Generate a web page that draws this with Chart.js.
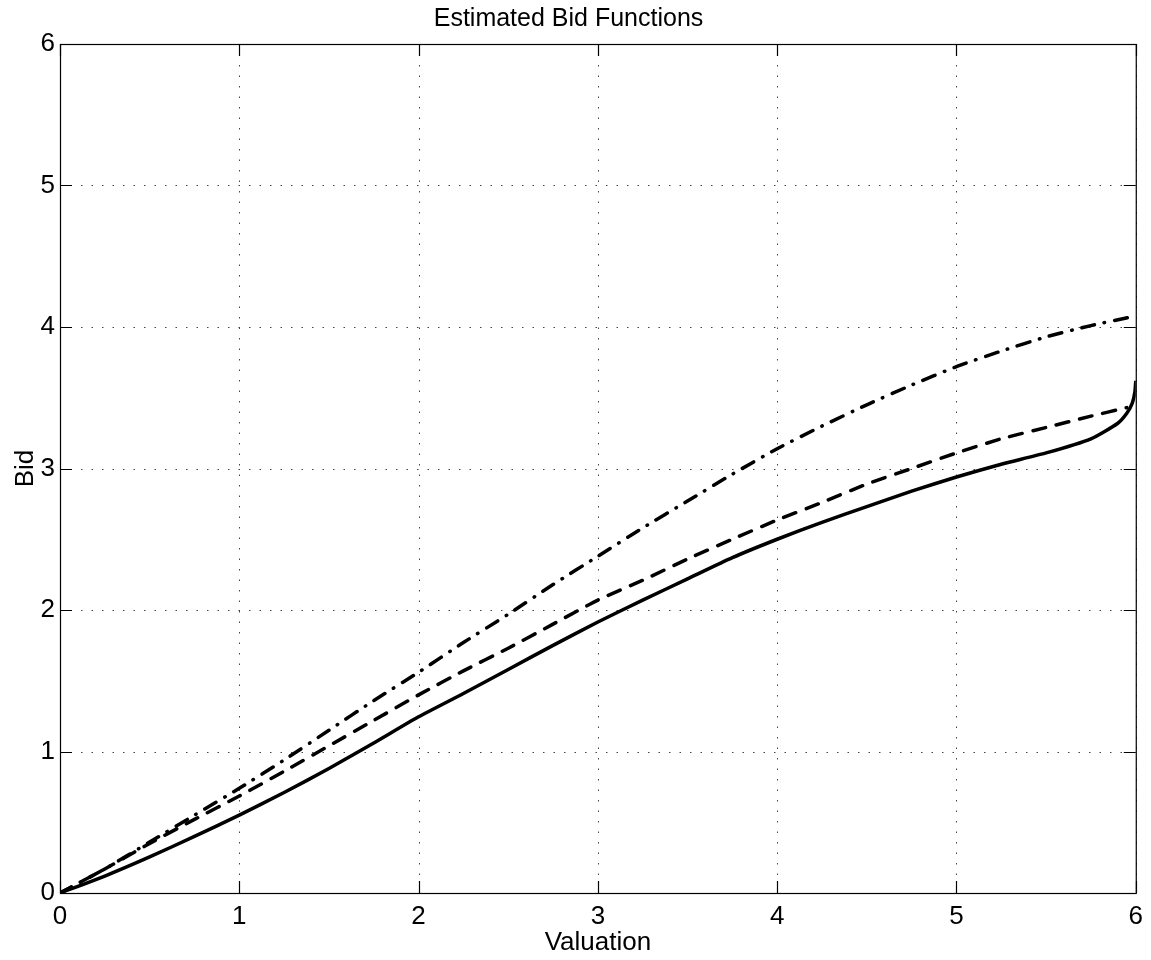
<!DOCTYPE html>
<html lang="en">
<head>
    <meta charset="UTF-8">
    <title>Estimated Bid Functions</title>
    <script src="https://cdn.jsdelivr.net/npm/chart.js"></script>
    <style>
        body {
            margin: 0;
            background: #fff;
        }
        #wrap {
            width: 1151px;
            height: 960px;
        }
    </style>
</head>
<body>

<div id="wrap">
    <canvas id="bidChart"></canvas>
</div>

<script>
    // valores
    const solidX = [0, 0.25, 0.5, 0.75, 1, 1.25, 1.5, 1.75, 2, 2.25, 2.5, 2.75, 3, 3.25, 3.5, 3.75, 4, 4.25, 4.5, 4.75, 5, 5.25, 5.5, 5.75, 5.9, 5.95, 5.98, 5.995, 6];
    const solidBid = [0, 0.12, 0.255, 0.4, 0.55, 0.71, 0.88, 1.06, 1.245, 1.41, 1.58, 1.75, 1.915, 2.07, 2.22, 2.37, 2.5, 2.62, 2.73, 2.84, 2.94, 3.03, 3.11, 3.21, 3.32, 3.39, 3.46, 3.54, 3.62];

    const dashedX = [0, 0.25, 0.5, 0.75, 1, 1.25, 1.5, 1.75, 2, 2.25, 2.5, 2.75, 3, 3.25, 3.5, 3.75, 4, 4.25, 4.5, 4.75, 5, 5.25, 5.5, 5.75, 5.95];
    const dashedBid = [0, 0.17, 0.35, 0.52, 0.685, 0.86, 1.04, 1.22, 1.4, 1.57, 1.73, 1.9, 2.07, 2.21, 2.36, 2.5, 2.636, 2.76, 2.89, 3.0, 3.11, 3.21, 3.29, 3.37, 3.43];

    const dashDotX = [0, 0.25, 0.5, 0.75, 1, 1.25, 1.5, 1.75, 2, 2.25, 2.5, 2.75, 3, 3.25, 3.5, 3.75, 4, 4.25, 4.5, 4.75, 5, 5.25, 5.5, 5.75, 5.97];
    const dashDotBid = [0, 0.17, 0.36, 0.55, 0.74, 0.94, 1.15, 1.36, 1.56, 1.77, 1.97, 2.18, 2.38, 2.58, 2.77, 2.96, 3.14, 3.3, 3.45, 3.59, 3.72, 3.83, 3.93, 4.01, 4.07];

    const tickValues = [0, 1, 2, 3, 4, 5, 6];

    const FONT = 'Liberation Sans, Arial, Helvetica, sans-serif';

    function toPoints(xs, ys) {
        return xs.map((x, i) => ({ x: x, y: ys[i] }));
    }

    // rejilla punteada y marco con marcas hacia dentro (estilo matlab)
    const boxAxes = {
        id: 'boxAxes',
        beforeDatasetsDraw(chart) {
            const { ctx, chartArea: a, scales } = chart;
            ctx.save();
            ctx.strokeStyle = '#444';
            ctx.lineWidth = 1;
            ctx.setLineDash([1.5, 9]);
            tickValues.forEach(v => {
                const px = Math.round(scales.x.getPixelForValue(v)) + 0.5;
                ctx.beginPath();
                ctx.moveTo(px, a.top);
                ctx.lineTo(px, a.bottom);
                ctx.stroke();
                const py = Math.round(scales.y.getPixelForValue(v)) + 0.5;
                ctx.beginPath();
                ctx.moveTo(a.left, py);
                ctx.lineTo(a.right, py);
                ctx.stroke();
            });
            ctx.restore();
        },
        afterDatasetsDraw(chart) {
            const { ctx, chartArea: a, scales } = chart;
            const len = 12;
            ctx.save();
            ctx.strokeStyle = '#000';
            ctx.lineWidth = 1.2;
            ctx.setLineDash([]);
            ctx.strokeRect(a.left + 0.5, a.top + 0.5, a.right - a.left, a.bottom - a.top);
            ctx.beginPath();
            tickValues.forEach(v => {
                const px = Math.round(scales.x.getPixelForValue(v)) + 0.5;
                ctx.moveTo(px, a.bottom);
                ctx.lineTo(px, a.bottom - len);
                ctx.moveTo(px, a.top);
                ctx.lineTo(px, a.top + len);
                const py = Math.round(scales.y.getPixelForValue(v)) + 0.5;
                ctx.moveTo(a.left, py);
                ctx.lineTo(a.left + len, py);
                ctx.moveTo(a.right, py);
                ctx.lineTo(a.right - len, py);
            });
            ctx.stroke();
            ctx.restore();
        }
    };

    const lineStyle = {
        showLine: true,
        pointRadius: 0,
        borderColor: '#000',
        borderWidth: 3.5,
        borderCapStyle: 'round',
        fill: false,
        tension: 0.2
    };

    new Chart(document.getElementById('bidChart'), {
        type: 'scatter',
        data: {
            datasets: [
                Object.assign({ label: 'Solid', data: toPoints(solidX, solidBid) }, lineStyle, { borderCapStyle: 'butt' }),
                Object.assign({ label: 'Dashed', data: toPoints(dashedX, dashedBid), borderDash: [13, 11] }, lineStyle),
                Object.assign({ label: 'Dash-dot', data: toPoints(dashDotX, dashDotBid), borderDash: [13, 10, 0.5, 10] }, lineStyle)
            ]
        },
        options: {
            responsive: true,
            maintainAspectRatio: false,
            animation: false,
            layout: {
                padding: { top: 0, right: 14, bottom: 0, left: 0 }
            },
            plugins: {
                legend: { display: false },
                tooltip: { enabled: false },
                title: {
                    display: true,
                    text: 'Estimated Bid Functions',
                    color: '#000',
                    font: { family: FONT, size: 25, weight: 'normal' },
                    padding: { top: 4, bottom: 10 }
                }
            },
            scales: {
                x: {
                    type: 'linear',
                    min: 0,
                    max: 6,
                    grid: { display: false, drawTicks: false, tickLength: 0 },
                    border: { display: false },
                    ticks: {
                        stepSize: 1,
                        color: '#000',
                        padding: 8,
                        maxRotation: 0,
                        font: { family: FONT, size: 26 }
                    },
                    title: {
                        display: true,
                        text: 'Valuation',
                        color: '#000',
                        font: { family: FONT, size: 26 },
                        padding: { top: 0, bottom: 2 }
                    },
                    afterFit: s => { s.height = 67; }
                },
                y: {
                    type: 'linear',
                    min: 0,
                    max: 6,
                    grid: { display: false, drawTicks: false, tickLength: 0 },
                    border: { display: false },
                    ticks: {
                        stepSize: 1,
                        color: '#000',
                        padding: 5,
                        font: { family: FONT, size: 26 }
                    },
                    title: {
                        display: true,
                        text: 'Bid',
                        color: '#000',
                        font: { family: FONT, size: 26 },
                        padding: { top: 10, bottom: 0 }
                    },
                    afterFit: s => { s.width = 60; }
                }
            }
        },
        plugins: [boxAxes]
    });
</script>

</body>
</html>
